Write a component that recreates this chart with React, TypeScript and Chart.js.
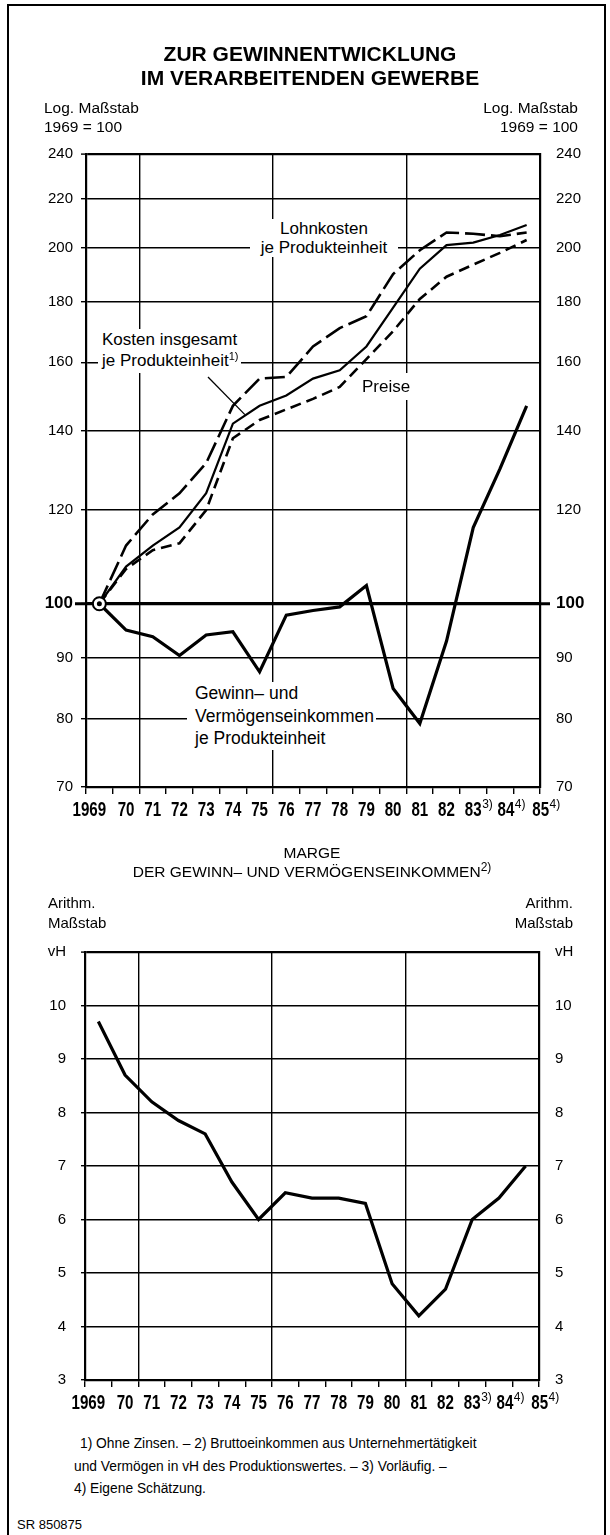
import React, { useEffect, useRef } from 'react';
import { Chart, registerables } from 'chart.js';

Chart.register(...registerables);

const FONT = "'Liberation Sans', Arial, Helvetica, sans-serif";

// ---------- data ----------
const years = ['1969', '70', '71', '72', '73', '74', '75', '76', '77', '78', '79', '80', '81', '82', '83', '84', '85'];
const yearNotes = ['', '', '', '', '', '', '', '', '', '', '', '', '', '', '3)', '4)', '4)'];
const gridYears = ['71', '76', '81'];

const lohnkosten = [100, 112, 119, 124, 131.5, 147, 155, 155.5, 165, 171, 175, 190, 199, 206, 205.5, 204.5, 206];
const kostenInsgesamt = [100, 107.5, 112, 116, 124, 142, 147, 150, 155, 157.5, 165, 178, 192, 201, 202, 205, 209];
const preise = [100, 107, 111, 112.5, 120, 138, 143, 146, 149, 152.5, 161, 170, 181, 189, 193.5, 198, 203];
const gewinn = [100, 95, 93.8, 90.4, 94.1, 94.7, 87.6, 97.8, 98.7, 99.4, 103.6, 84.8, 79.2, 93, 116, 130, 147];
const baseYear = '1969';
const baseValue = 100;

const marge = [9.7, 8.7, 8.2, 7.85, 7.6, 6.7, 6.0, 6.5, 6.4, 6.4, 6.3, 4.8, 4.2, 4.7, 6.0, 6.4, 7.0];

const logTicks = [70, 80, 90, 100, 120, 140, 160, 180, 200, 220, 240];
const margeTicks = [3, 4, 5, 6, 7, 8, 9, 10, 11];
const margeTickLabels = ['3', '4', '5', '6', '7', '8', '9', '10', 'vH'];

// ---------- helpers ----------
const labelNudge = (i: number) => (i === 0 ? -10 : i === 15 ? 6 : i === 16 ? 14 : 0);

const xLabelPlugin = {
  id: 'xlabels',
  afterDraw(chart: any, _args: any, opts: any) {
    const { ctx, chartArea } = chart;
    const xs = chart.scales.x;
    const y = chartArea.bottom + (opts.offset || 22);
    ctx.save();
    ctx.fillStyle = '#000';
    ctx.textBaseline = 'middle';
    years.forEach((lab, i) => {
      const x = xs.getPixelForValue(i) + labelNudge(i);
      ctx.save();
      ctx.translate(x, y);
      ctx.scale(0.72, 1);
      ctx.font = `bold 21px ${FONT}`;
      ctx.textAlign = 'center';
      ctx.fillText(lab, 0, 0);
      const w = ctx.measureText(lab).width * 0.72;
      ctx.restore();
      if (yearNotes[i]) {
        ctx.font = `12px ${FONT}`;
        ctx.textAlign = 'left';
        ctx.fillText(yearNotes[i], x + w / 2 + 0.5, y - 5);
      }
    });
    ctx.restore();
  },
};

const baseLinePlugin = {
  id: 'baseLine',
  beforeDatasetsDraw(chart: any) {
    const { ctx, chartArea } = chart;
    const y = chart.scales.y.getPixelForValue(baseValue);
    ctx.save();
    ctx.strokeStyle = '#000';
    ctx.lineWidth = 3;
    ctx.beginPath();
    ctx.moveTo(chartArea.left - 11, y);
    ctx.lineTo(chartArea.right + 10, y);
    ctx.stroke();
    ctx.restore();
  },
};

const leaderPlugin = {
  id: 'leader',
  afterDatasetsDraw(chart: any) {
    const { ctx } = chart;
    const tx = chart.scales.x.getPixelForValue(5.45);
    const ty = chart.scales.y.getPixelForValue(144.5);
    ctx.save();
    ctx.strokeStyle = '#000';
    ctx.lineWidth = 1.3;
    ctx.beginPath();
    ctx.moveTo(208, 377);
    ctx.lineTo(tx, ty);
    ctx.stroke();
    ctx.restore();
  },
};

function makeXAxis(height: number) {
  return {
    type: 'category',
    labels: years,
    offset: true,
    grid: {
      offset: true,
      color: (c: any) => (c.index !== undefined && gridYears.includes(years[c.index]) ? '#000' : 'rgba(0,0,0,0)'),
      lineWidth: 1.4,
      tickColor: '#000',
      tickWidth: 1.4,
      tickLength: 7,
    },
    border: { display: true, color: '#000', width: 2.2 },
    ticks: { autoSkip: false, maxRotation: 0, minRotation: 0, color: 'rgba(0,0,0,0)', font: { size: 6 } },
    afterFit: (s: any) => {
      s.height = height;
    },
  };
}

const topTickFont = (c: any) =>
  c.tick && c.tick.value === 100 ? { family: FONT, size: 17, weight: 'bold' } : { family: FONT, size: 15 };

function lineDs(label: string, data: number[], width: number, dash: number[]) {
  return {
    label,
    data,
    borderColor: '#000',
    backgroundColor: '#000',
    borderWidth: width,
    borderDash: dash,
    pointRadius: 0,
    tension: 0,
    fill: false,
  };
}

export default function App() {
  const c1 = useRef<HTMLCanvasElement>(null);
  const c2 = useRef<HTMLCanvasElement>(null);

  useEffect(() => {
    const baseData = years.map((y) => (y === baseYear ? baseValue : null));
    const ch1 = new Chart(c1.current as HTMLCanvasElement, {
      type: 'line',
      data: {
        labels: years,
        datasets: [
          {
            label: 'dot',
            data: baseData,
            showLine: false,
            pointRadius: 2.5,
            pointBackgroundColor: '#000',
            pointBorderWidth: 0,
          },
          {
            label: 'ring',
            data: baseData,
            showLine: false,
            pointRadius: 6.5,
            pointBackgroundColor: '#fff',
            pointBorderColor: '#000',
            pointBorderWidth: 2,
          },
          lineDs('Gewinn- und Vermögenseinkommen je Produkteinheit', gewinn, 3.2, []),
          lineDs('Lohnkosten je Produkteinheit', lohnkosten, 2.6, [20, 6]),
          lineDs('Kosten insgesamt je Produkteinheit', kostenInsgesamt, 2.2, []),
          lineDs('Preise', preise, 2.6, [11, 6]),
        ] as any,
      },
      options: {
        responsive: false,
        animation: false,
        devicePixelRatio: 1,
        layout: { padding: { top: 154, left: 0, right: 0, bottom: 0 } },
        plugins: { legend: { display: false }, tooltip: { enabled: false }, xlabels: { offset: 23 } } as any,
        scales: {
          x: makeXAxis(53),
          y: {
            type: 'logarithmic',
            position: 'left',
            min: 70,
            max: 240,
            bounds: 'data',
            afterBuildTicks: (s: any) => {
              s.ticks = logTicks.map((v) => ({ value: v }));
            },
            ticks: { callback: (v: any) => String(v), font: topTickFont, color: '#000', padding: 8, autoSkip: false },
            grid: {
              color: '#000',
              lineWidth: (c: any) => (c.tick && c.tick.value === 100 ? 3 : c.tick && c.tick.value === 240 ? 2.2 : 1.4),
              tickLength: 5,
              tickColor: '#000',
              tickWidth: 1.4,
            },
            border: { display: true, color: '#000', width: 2.2 },
            afterFit: (s: any) => {
              s.width = 86;
            },
          },
          y2: {
            type: 'logarithmic',
            position: 'right',
            min: 70,
            max: 240,
            bounds: 'data',
            afterBuildTicks: (s: any) => {
              s.ticks = logTicks.map((v) => ({ value: v }));
            },
            ticks: { callback: (v: any) => String(v), font: topTickFont, color: '#000', padding: 16, autoSkip: false },
            grid: { drawOnChartArea: false, drawTicks: false, color: 'rgba(0,0,0,0)' },
            border: { display: true, color: '#000', width: 2.2 },
            afterFit: (s: any) => {
              s.width = 70;
            },
          },
        } as any,
      },
      plugins: [xLabelPlugin, baseLinePlugin, leaderPlugin],
    } as any);

    const ch2 = new Chart(c2.current as HTMLCanvasElement, {
      type: 'line',
      data: {
        labels: years,
        datasets: [lineDs('Marge der Gewinn- und Vermögenseinkommen', marge, 3.2, [])] as any,
      },
      options: {
        responsive: false,
        animation: false,
        devicePixelRatio: 1,
        layout: { padding: { top: 112, left: 0, right: 0, bottom: 0 } },
        plugins: { legend: { display: false }, tooltip: { enabled: false }, xlabels: { offset: 23 } } as any,
        scales: {
          x: makeXAxis(40),
          y: {
            type: 'linear',
            position: 'left',
            min: 3,
            max: 11,
            afterBuildTicks: (s: any) => {
              s.ticks = margeTicks.map((v) => ({ value: v }));
            },
            ticks: {
              callback: (v: any) => margeTickLabels[margeTicks.indexOf(v)],
              font: { family: FONT, size: 15 },
              color: '#000',
              padding: 15,
              autoSkip: false,
            },
            grid: {
              color: '#000',
              lineWidth: (c: any) => (c.tick && c.tick.value === 11 ? 2.2 : 1.4),
              tickLength: 4,
              tickColor: '#000',
              tickWidth: 1.4,
            },
            border: { display: true, color: '#000', width: 2.2 },
            afterFit: (s: any) => {
              s.width = 85;
            },
          },
          y2: {
            type: 'linear',
            position: 'right',
            min: 3,
            max: 11,
            afterBuildTicks: (s: any) => {
              s.ticks = margeTicks.map((v) => ({ value: v }));
            },
            ticks: {
              callback: (v: any) => margeTickLabels[margeTicks.indexOf(v)],
              font: { family: FONT, size: 15 },
              color: '#000',
              padding: 16,
              autoSkip: false,
            },
            grid: { drawOnChartArea: false, drawTicks: false, color: 'rgba(0,0,0,0)' },
            border: { display: true, color: '#000', width: 2.2 },
            afterFit: (s: any) => {
              s.width = 71;
            },
          },
        } as any,
      },
      plugins: [xLabelPlugin],
    } as any);

    return () => {
      ch1.destroy();
      ch2.destroy();
    };
  }, []);

  const abs = (s: React.CSSProperties): React.CSSProperties => ({ position: 'absolute', whiteSpace: 'nowrap', ...s });
  const sup = (t: string, size = 11) => (
    <span style={{ fontSize: size, position: 'relative', top: -6 }}>{t}</span>
  );

  return (
    <div
      style={{
        position: 'absolute',
        left: 0,
        top: 0,
        width: 610,
        height: 1535,
        background: '#fff',
        color: '#000',
        fontFamily: FONT,
        overflow: 'hidden',
      }}
    >
      <div
        style={abs({
          left: 7,
          top: 4,
          width: 599,
          height: 1560,
          borderLeft: '2px solid #000',
          borderTop: '2px solid #000',
          borderRight: '2px solid #000',
          boxSizing: 'border-box',
        })}
      />
      <canvas ref={c1} width={610} height={840} style={abs({ left: 0, top: 0, width: 610, height: 840 })} />
      <canvas ref={c2} width={610} height={580} style={abs({ left: 0, top: 840, width: 610, height: 580 })} />

      {/* Title */}
      <div style={abs({ left: 0, width: 620, top: 42, textAlign: 'center', fontSize: 21, fontWeight: 'bold', lineHeight: '23.5px' })}>
        ZUR GEWINNENTWICKLUNG
        <br />
        IM VERARBEITENDEN GEWERBE
      </div>

      {/* Top axis headers */}
      <div style={abs({ left: 44, top: 98, fontSize: 15.5, lineHeight: '19px' })}>
        Log. Maßstab
        <br />
        1969 = 100
      </div>
      <div style={abs({ right: 610 - 578, top: 98, fontSize: 15.5, lineHeight: '19px', textAlign: 'right' })}>
        Log. Maßstab
        <br />
        1969 = 100
      </div>

      {/* Annotations top chart */}
      <div style={abs({ left: 250, width: 148, top: 219, textAlign: 'center', fontSize: 17, lineHeight: '19px', background: '#fff' })}>
        Lohnkosten
        <br />
        je Produkteinheit
      </div>
      <div style={abs({ left: 98, top: 329, padding: '0 3px 0 4px', fontSize: 17, lineHeight: '21px', background: '#fff' })}>
        Kosten insgesamt
        <br />
        je Produkteinheit{sup('1)')}
      </div>
      <div style={abs({ left: 360, top: 373, padding: '4px 2px', fontSize: 17, lineHeight: '19px', background: '#fff' })}>
        Preise
      </div>
      <div style={abs({ left: 187, top: 682, padding: '0 2px 0 8px', fontSize: 17.5, lineHeight: '22.5px', background: '#fff' })}>
        Gewinn– und
        <br />
        Vermögenseinkommen
        <br />
        je Produkteinheit
      </div>

      {/* Bottom chart title */}
      <div style={abs({ left: 0, width: 624, top: 843, textAlign: 'center', fontSize: 15.5, lineHeight: '19px' })}>
        MARGE
        <br />
        DER GEWINN– UND VERMÖGENSEINKOMMEN{sup('2)', 12)}
      </div>
      <div style={abs({ left: 48, top: 893, fontSize: 15, lineHeight: '20px' })}>
        Arithm.
        <br />
        Maßstab
      </div>
      <div style={abs({ right: 610 - 573, top: 893, fontSize: 15, lineHeight: '20px', textAlign: 'right' })}>
        Arithm.
        <br />
        Maßstab
      </div>

      {/* Footnotes */}
      <div style={abs({ left: 80, top: 1433, fontSize: 13.8, lineHeight: '22.5px' })}>
        1) Ohne Zinsen. – 2) Bruttoeinkommen aus Unternehmertätigkeit
      </div>
      <div style={abs({ left: 74, top: 1455.5, fontSize: 13.8, lineHeight: '22.5px' })}>
        und Vermögen in vH des Produktionswertes. – 3) Vorläufig. –
        <br />
        4) Eigene Schätzung.
      </div>
      <div style={abs({ left: 17, top: 1516, fontSize: 13, lineHeight: '18px' })}>SR 850875</div>
    </div>
  );
}
